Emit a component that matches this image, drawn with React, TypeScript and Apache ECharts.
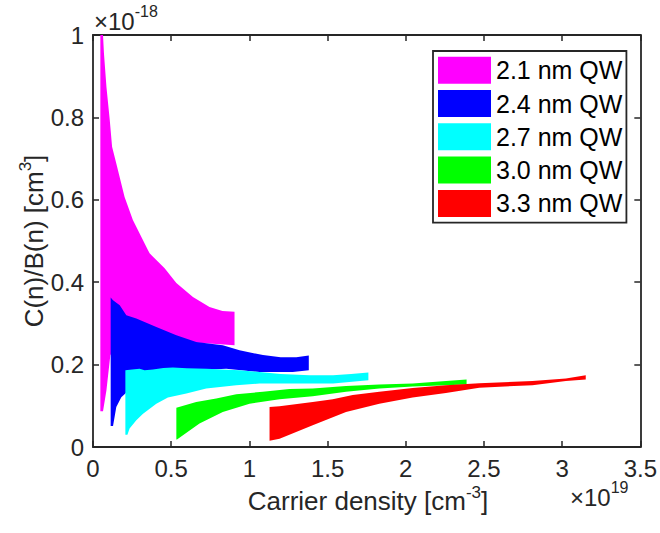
import React, { useEffect, useRef } from "react";
import * as echarts from "echarts";

// x in units of 1e19 cm^-3, y in units of 1e-18 cm^3
const seriesNames = ["2.1 nm QW", "2.4 nm QW", "2.7 nm QW", "3.0 nm QW", "3.3 nm QW"];
const seriesColors = ["#FF00FF", "#0000FF", "#00FFFF", "#00FF00", "#FF0000"];

const qw21Upper: [number, number][] = [
  [0.047, 1.0], [0.064, 1.0], [0.07, 0.956], [0.086, 0.874], [0.107, 0.794], [0.122, 0.729],
  [0.149, 0.688], [0.202, 0.607], [0.255, 0.551], [0.351, 0.478], [0.362, 0.47], [0.458, 0.434],
  [0.533, 0.398], [0.639, 0.364], [0.745, 0.34], [0.828, 0.33], [0.905, 0.328],
];
const qw21Lower: [number, number][] = [
  [0.047, 0.087], [0.064, 0.087], [0.086, 0.138], [0.111, 0.223], [0.2, 0.265],
  [0.4, 0.262], [0.6, 0.255], [0.905, 0.247],
];

const qw24Upper: [number, number][] = [
  [0.113, 0.363], [0.128, 0.356], [0.171, 0.344], [0.192, 0.332], [0.213, 0.32], [0.277, 0.312],
  [0.405, 0.291], [0.533, 0.271], [0.66, 0.255], [0.83, 0.247], [0.937, 0.235], [1.087, 0.223],
  [1.2, 0.218], [1.3, 0.218], [1.38, 0.222],
];
const qw24Lower: [number, number][] = [
  [0.113, 0.051], [0.128, 0.051], [0.149, 0.097], [0.181, 0.121], [0.207, 0.13], [0.3, 0.18],
  [0.6, 0.185], [0.852, 0.19], [1.065, 0.182], [1.277, 0.182], [1.38, 0.186],
];

const qw27Upper: [number, number][] = [
  [0.207, 0.186], [0.25, 0.188], [0.298, 0.19], [0.33, 0.186], [0.383, 0.188], [0.45, 0.192],
  [0.511, 0.193], [0.6, 0.191], [0.724, 0.19], [0.937, 0.186], [1.065, 0.182], [1.2, 0.177],
  [1.384, 0.174], [1.535, 0.174], [1.65, 0.177], [1.761, 0.181],
];
const qw27Lower: [number, number][] = [
  [0.207, 0.03], [0.22, 0.03], [0.234, 0.045], [0.277, 0.065], [0.32, 0.081], [0.405, 0.105],
  [0.479, 0.12], [0.597, 0.13], [0.724, 0.142], [0.916, 0.15], [1.065, 0.154], [1.384, 0.154],
  [1.535, 0.154], [1.761, 0.162],
];

const qw30Upper: [number, number][] = [
  [0.533, 0.095], [0.66, 0.109], [0.788, 0.118], [0.916, 0.128], [1.086, 0.134], [1.256, 0.141],
  [1.405, 0.142], [1.618, 0.148], [1.831, 0.152], [2.044, 0.154], [2.257, 0.16], [2.389, 0.164],
];
const qw30Lower: [number, number][] = [
  [0.533, 0.018], [0.537, 0.018], [0.681, 0.057], [0.83, 0.085], [1.001, 0.105], [1.193, 0.116],
  [1.405, 0.123], [1.618, 0.134], [1.831, 0.142], [2.044, 0.147], [2.257, 0.15], [2.389, 0.152],
];

const qw33Upper: [number, number][] = [
  [1.129, 0.097], [1.193, 0.099], [1.405, 0.109], [1.533, 0.116], [1.661, 0.126], [1.831, 0.134],
  [2.044, 0.143], [2.257, 0.15], [2.47, 0.155], [2.81, 0.16], [3.024, 0.166], [3.151, 0.174],
];
const qw33Lower: [number, number][] = [
  [1.129, 0.015], [1.193, 0.02], [1.405, 0.053], [1.618, 0.085], [1.831, 0.105], [2.044, 0.12],
  [2.257, 0.131], [2.47, 0.144], [2.81, 0.15], [3.024, 0.16], [3.151, 0.164],
];

const bands = [
  [qw21Upper, qw21Lower],
  [qw24Upper, qw24Lower],
  [qw27Upper, qw27Lower],
  [qw30Upper, qw30Lower],
  [qw33Upper, qw33Lower],
];

const xMin = 0, xMax = 3.5, xStep = 0.5;
const yMin = 0, yMax = 1, yStep = 0.2;

const AX = "#262626";
const FONT = "'Liberation Sans', Arial, Helvetica, sans-serif";

function bandSeries(i: number) {
  const [upper, lower] = bands[i];
  const poly = [...upper, ...lower.slice().reverse()];
  const color = seriesColors[i];
  return {
    type: "custom",
    name: seriesNames[i],
    coordinateSystem: "cartesian2d",
    xAxisIndex: 0,
    yAxisIndex: 0,
    clip: true,
    silent: true,
    itemStyle: { color },
    encode: { x: 0, y: 1 },
    data: poly,
    z: 2 + i,
    renderItem: (params: any, api: any) => {
      if (params.dataIndex !== 0) return null;
      const points = poly.map((p) => api.coord(p));
      return {
        type: "polygon",
        shape: { points },
        style: { fill: color, stroke: "none" },
      };
    },
  };
}

function supRich(main: number, sup: number, supLH: number) {
  return {
    a: { fontSize: main, fontFamily: FONT, fill: AX, lineHeight: 30, verticalAlign: "bottom" },
    b: { fontSize: sup, fontFamily: FONT, fill: AX, lineHeight: supLH, verticalAlign: "top" },
  };
}

export default function App() {
  const ref = useRef<HTMLDivElement>(null);
  useEffect(() => {
    document.body.style.margin = "0";
    const chart = echarts.init(ref.current!, null, { renderer: "svg" });
    const axisCommon = {
      type: "value",
      axisLine: { show: true, onZero: false, lineStyle: { color: AX, width: 1.8 } },
      axisTick: { show: true, inside: true, length: 6, lineStyle: { color: AX, width: 1.5 } },
      splitLine: { show: false },
    };
    const option: any = {
      animation: false,
      backgroundColor: "#ffffff",
      grid: { left: 93, right: 19, top: 35, bottom: 86, containLabel: false },
      xAxis: [
        {
          ...axisCommon,
          min: xMin, max: xMax, interval: xStep, position: "bottom",
          axisLabel: { color: AX, fontSize: 24, fontFamily: FONT, margin: 9 },
        },
        {
          ...axisCommon,
          min: xMin, max: xMax, interval: xStep, position: "top",
          axisLabel: { show: false },
        },
      ],
      yAxis: [
        {
          ...axisCommon,
          min: yMin, max: yMax, interval: yStep, position: "left",
          axisLabel: { color: AX, fontSize: 24, fontFamily: FONT, margin: 9 },
        },
        {
          ...axisCommon,
          min: yMin, max: yMax, interval: yStep, position: "right",
          axisLabel: { show: false },
        },
      ],
      legend: {
        orient: "vertical",
        left: 433,
        top: 51,
        padding: [5.7, 4, 5.8, 5],
        itemWidth: 53,
        itemHeight: 27,
        itemGap: 6.3,
        icon: "rect",
        backgroundColor: "#ffffff",
        borderColor: AX,
        borderWidth: 1.8,
        borderRadius: 0,
        textStyle: { color: "#000000", fontSize: 25, fontFamily: FONT },
        data: seriesNames,
        selectedMode: false,
      },
      series: seriesNames.map((_, i) => bandSeries(i)),
      graphic: [
        {
          type: "text",
          x: 32,
          y: 241,
          rotation: Math.PI / 2,
          style: {
            text: "{a|C(n)/B(n) [cm}{b|3}{a|]}",
            align: "center",
            verticalAlign: "middle",
            fill: AX,
            rich: supRich(26, 17, 20),
          },
        },
        {
          type: "text",
          x: 368,
          y: 499,
          style: {
            text: "{a|Carrier density [cm}{b|-3}{a|]}",
            align: "center",
            verticalAlign: "middle",
            fill: AX,
            rich: supRich(26, 17, 20),
          },
        },
        {
          type: "text",
          x: 570,
          y: 494,
          style: {
            text: "{a|×10}{b|19}",
            align: "left",
            verticalAlign: "middle",
            fill: AX,
            rich: supRich(24, 16, 17),
          },
        },
        {
          type: "text",
          x: 94,
          y: 18,
          style: {
            text: "{a|×10}{b|-18}",
            align: "left",
            verticalAlign: "middle",
            fill: AX,
            rich: supRich(24, 16, 17),
          },
        },
      ],
    };
    chart.setOption(option);
    return () => chart.dispose();
  }, []);
  return <div ref={ref} style={{ width: 660, height: 533 }} />;
}
